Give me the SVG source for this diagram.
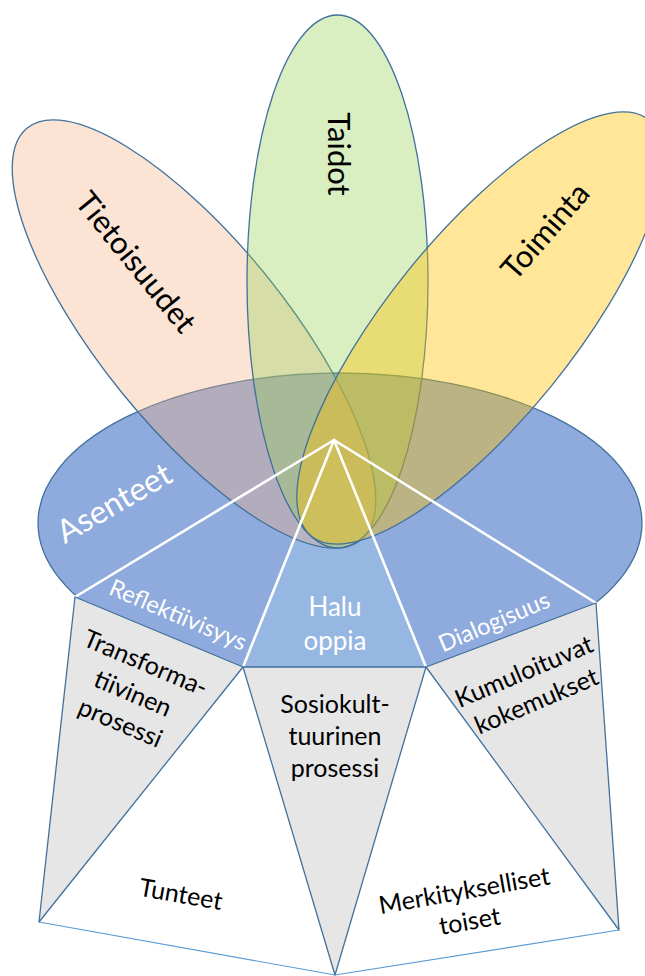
<svg xmlns="http://www.w3.org/2000/svg" width="645" height="976" viewBox="0 0 645 976">
<style>
  text { font-family: Lato, "Open Sans", "Liberation Sans", sans-serif; }
  .outline { stroke: #41719c; stroke-width: 1.3; }
  .pt { font-size: 31px; fill: #000; text-anchor: middle; }
  .wt { fill: #fff; text-anchor: middle; }
  .bt { fill: #000; font-size: 25px; text-anchor: middle; }
  .face { fill: #8faadc; }
  .gray { fill: #e7e6e6; stroke: #41719c; stroke-width: 1.3; stroke-linejoin: round; }
  .white { fill: #fff; stroke: none; }
  .conn { stroke: #fff; stroke-width: 2.6; stroke-linecap: round; fill: none; }
</style>
<rect width="645" height="976" fill="#fff"/>

<g id="asenteet">
  <ellipse cx="340" cy="523" rx="302" ry="150" fill="#8faadc" class="outline"/>
  <text class="wt" font-size="32" transform="translate(114,503) rotate(-30)" dy="11">Asenteet</text>
</g>

<g id="reflektiivisyys">
  <polygon class="face" points="334,440 75,597 243,667"/>
</g>
<g id="dialogisuus">
  <polygon class="face" points="334,440 426,667 596,603"/>
</g>
<g id="halu-oppia">
  <polygon points="334,440 243,667 426,667" fill="#97b7e3"/>
</g>

<g id="tietoisuudet">
  <ellipse cx="0" cy="0" rx="93" ry="265" transform="translate(194,334) rotate(-39)" fill="#f4b183" fill-opacity="0.35" class="outline"/>
  <text class="pt" transform="translate(136,262) rotate(51)" dy="11">Tietoisuudet</text>
</g>
<g id="taidot">
  <ellipse cx="337.5" cy="281.5" rx="90.5" ry="266.5" fill="#92d050" fill-opacity="0.35" class="outline"/>
  <text class="pt" transform="translate(339,154) rotate(90)" dy="11">Taidot</text>
</g>
<g id="toiminta">
  <ellipse cx="0" cy="0" rx="92" ry="268" transform="translate(480,328) rotate(39)" fill="#ffc000" fill-opacity="0.4" class="outline"/>
  <text class="pt" transform="translate(545,231) rotate(-49)" dy="11">Toiminta</text>
</g>

<g id="connectors">
  <line class="conn" x1="334" y1="440" x2="75" y2="597"/>
  <line class="conn" x1="334" y1="440" x2="243" y2="667"/>
  <line class="conn" x1="334" y1="440" x2="426" y2="667"/>
  <line class="conn" x1="334" y1="440" x2="596" y2="603"/>
</g>

<g id="face-labels">
  <text class="wt" font-size="23.5" transform="translate(178,615) rotate(23)" dy="8">Reflektiivisyys</text>
  <text class="wt" font-size="23.5" transform="translate(494,622) rotate(-23)" dy="8">Dialogisuus</text>
  <text class="wt" font-size="26" x="335" y="616">Halu</text>
  <text class="wt" font-size="26" x="335" y="650">oppia</text>
</g>

<g id="tunteet">
  <polygon class="white" points="243,667 39,922 335,975"/>
  <line x1="39" y1="922" x2="335" y2="975" stroke="#5b9bd5" stroke-width="1.2"/>
  <text class="bt" transform="translate(181,894) rotate(10)" dy="9">Tunteet</text>
</g>
<g id="merkitykselliset-toiset">
  <polygon class="white" points="426,667 335,975 619,930"/>
  <line x1="335" y1="975" x2="619" y2="930" stroke="#5b9bd5" stroke-width="1.2"/>
  <text class="bt" transform="translate(467,906) rotate(-10)"><tspan x="0" y="-7">Merkitykselliset</tspan><tspan x="0" y="24">toiset</tspan></text>
</g>

<g id="transformatiivinen">
  <polygon class="gray" points="75,597 243,667 39,922"/>
  <text class="bt" transform="translate(133,693) rotate(23)"><tspan x="0" y="-24">Transforma-</tspan><tspan x="0" y="9">tiivinen</tspan><tspan x="0" y="41">prosessi</tspan></text>
</g>
<g id="sosiokulttuurinen">
  <polygon class="gray" points="243,667 426,667 335,975"/>
  <text class="bt" x="335" y="713">Sosiokult-</text>
  <text class="bt" x="335" y="745">tuurinen</text>
  <text class="bt" x="335" y="777">prosessi</text>
</g>
<g id="kumuloituvat">
  <polygon class="gray" points="426,667 596,603 619,930"/>
  <text class="bt" transform="translate(530,686) rotate(-23)"><tspan x="0" y="-7">Kumuloituvat</tspan><tspan x="0" y="25">kokemukset</tspan></text>
</g>
</svg>
